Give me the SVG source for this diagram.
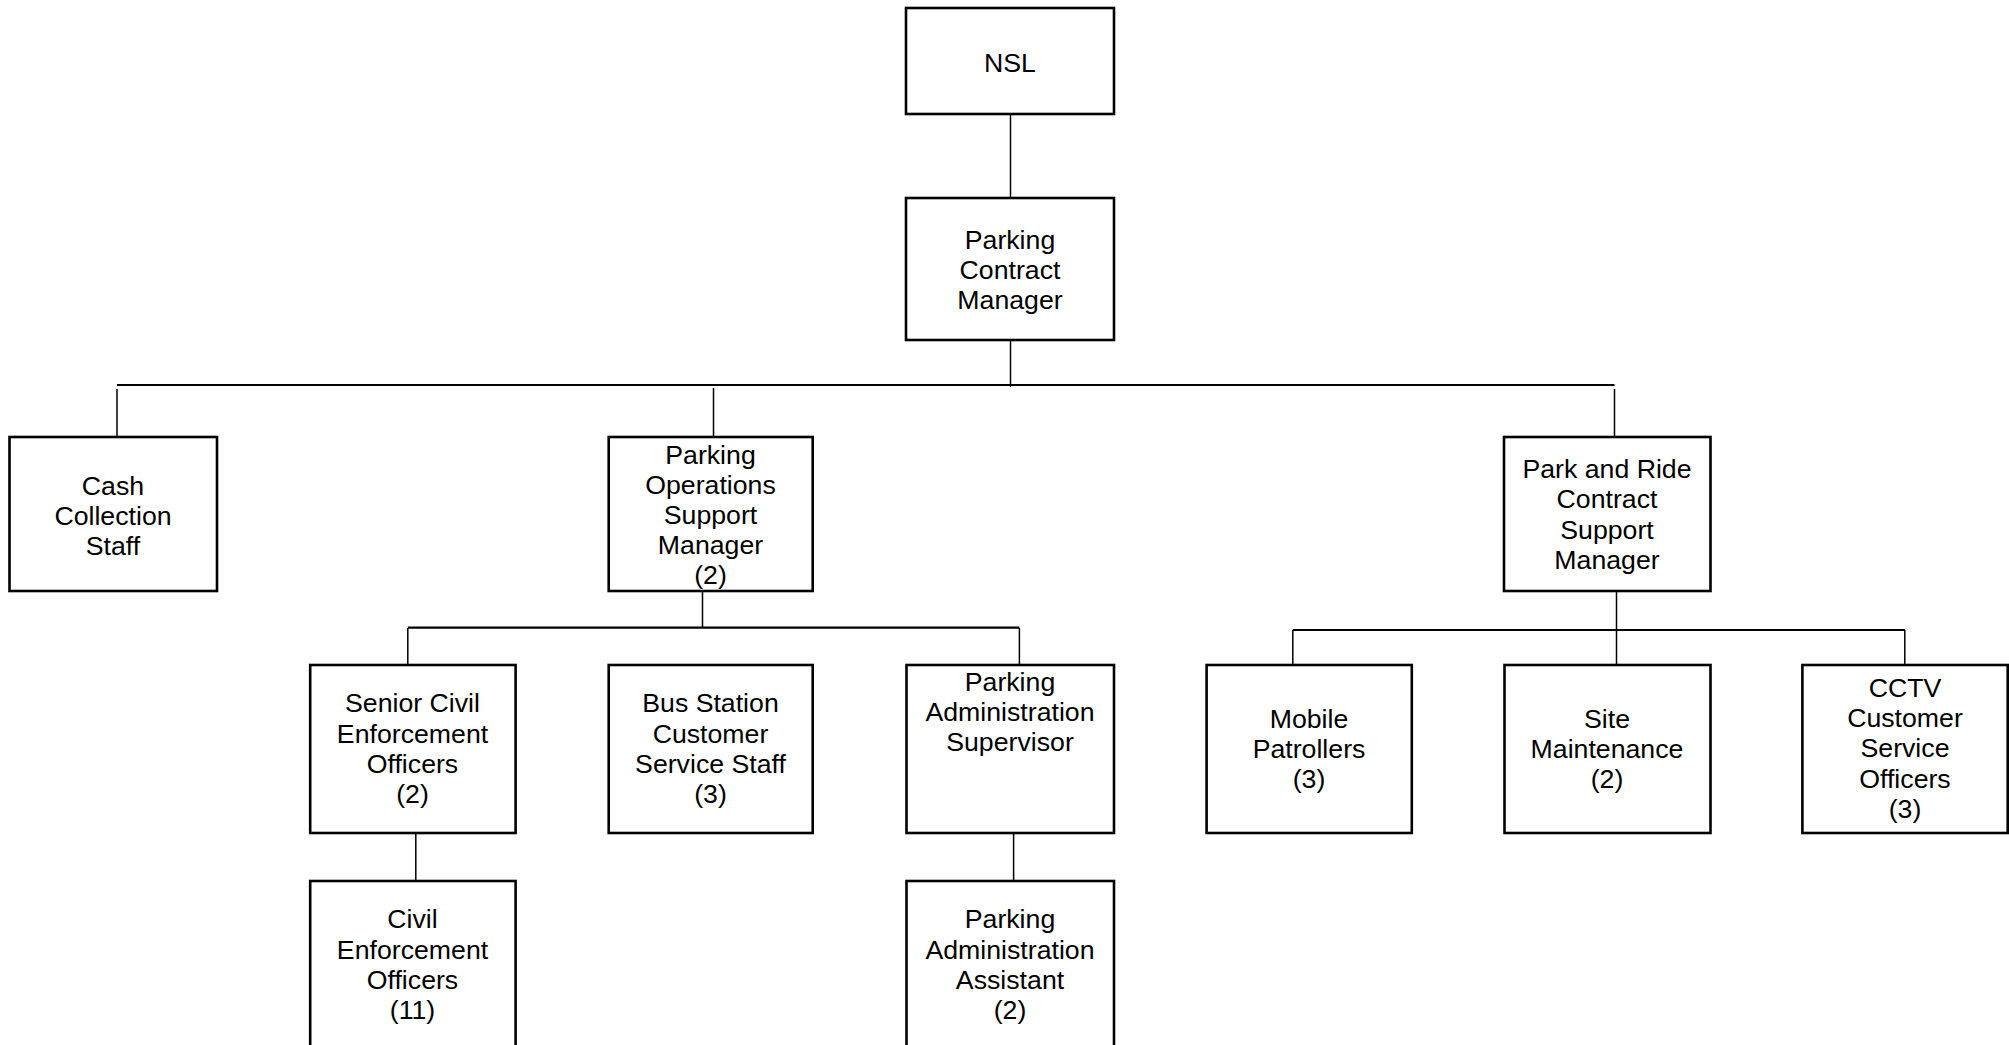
<svg xmlns="http://www.w3.org/2000/svg" width="2009" height="1045" viewBox="0 0 2009 1045">
<style>
.box{fill:#fff;stroke:#000;stroke-width:2.6}
.t{font-family:"Liberation Sans",Arial,sans-serif;font-size:26.7px;fill:#000;text-anchor:middle}
.c{stroke:#000;stroke-width:1.5;fill:none}
.bus{stroke:#000;stroke-width:2.2;fill:none}
</style>
<rect width="2009" height="1045" fill="#fff"/>
<g id="connectors">
<line class="c" x1="1010.5" y1="114" x2="1010.5" y2="198"/>
<line class="c" x1="1010.5" y1="340" x2="1010.5" y2="387"/>
<line class="bus" x1="117" y1="385" x2="1614.5" y2="385"/>
<line class="c" x1="117" y1="389" x2="117" y2="437"/>
<line class="c" x1="713.5" y1="388" x2="713.5" y2="437"/>
<line class="c" x1="1614.5" y1="389" x2="1614.5" y2="437"/>
<line class="c" x1="702.5" y1="591" x2="702.5" y2="628"/>
<line class="bus" x1="407.8" y1="627.7" x2="1019.4" y2="627.7"/>
<line class="c" x1="407.8" y1="628" x2="407.8" y2="665"/>
<line class="c" x1="1019.4" y1="628" x2="1019.4" y2="665"/>
<line class="c" x1="415.8" y1="833" x2="415.8" y2="881"/>
<line class="c" x1="1013.6" y1="830" x2="1013.6" y2="881"/>
<line class="c" x1="1616.5" y1="591" x2="1616.5" y2="665"/>
<line class="bus" x1="1292.8" y1="630" x2="1904.8" y2="630"/>
<line class="c" x1="1292.8" y1="630" x2="1292.8" y2="665"/>
<line class="c" x1="1904.8" y1="630" x2="1904.8" y2="665"/>
</g>
<g id="nsl">
<rect class="box" x="906" y="8" width="208" height="106"/>
<text class="t" x="1010" y="72">NSL</text>
</g>
<g id="pcm">
<rect class="box" x="906" y="198" width="208" height="142"/>
<text class="t" x="1010" y="248.5">Parking</text>
<text class="t" x="1010" y="278.8">Contract</text>
<text class="t" x="1010" y="309.1">Manager</text>
</g>
<g id="cash">
<rect class="box" x="9.5" y="437" width="207.5" height="154"/>
<text class="t" x="113" y="494.5">Cash</text>
<text class="t" x="113" y="524.8">Collection</text>
<text class="t" x="113" y="555.1">Staff</text>
</g>
<g id="posm">
<rect class="box" x="608.7" y="437" width="204" height="154"/>
<text class="t" x="710.5" y="463.5">Parking</text>
<text class="t" x="710.5" y="493.8">Operations</text>
<text class="t" x="710.5" y="524.1">Support</text>
<text class="t" x="710.5" y="554.4">Manager</text>
<text class="t" x="710.5" y="584">(2)</text>
</g>
<g id="prcsm">
<rect class="box" x="1504" y="437" width="206.5" height="154"/>
<text class="t" x="1607" y="478">Park and Ride</text>
<text class="t" x="1607" y="508.3">Contract</text>
<text class="t" x="1607" y="538.6">Support</text>
<text class="t" x="1607" y="568.9">Manager</text>
</g>
<g id="sceo">
<rect class="box" x="310.2" y="665" width="205.4" height="168"/>
<text class="t" x="412.5" y="712.3">Senior Civil</text>
<text class="t" x="412.5" y="742.6">Enforcement</text>
<text class="t" x="412.5" y="772.9">Officers</text>
<text class="t" x="412.5" y="803.2">(2)</text>
</g>
<g id="bscss">
<rect class="box" x="608.7" y="665" width="204" height="168"/>
<text class="t" x="710.5" y="712.3">Bus Station</text>
<text class="t" x="710.5" y="742.6">Customer</text>
<text class="t" x="710.5" y="772.9">Service Staff</text>
<text class="t" x="710.5" y="803.2">(3)</text>
</g>
<g id="pas">
<rect class="box" x="906.5" y="665" width="207.5" height="168"/>
<text class="t" x="1010" y="690.5">Parking</text>
<text class="t" x="1010" y="720.8">Administration</text>
<text class="t" x="1010" y="751.1">Supervisor</text>
</g>
<g id="ceo">
<rect class="box" x="310.2" y="881" width="205.4" height="170"/>
<text class="t" x="412.5" y="928.3">Civil</text>
<text class="t" x="412.5" y="958.6">Enforcement</text>
<text class="t" x="412.5" y="988.9">Officers</text>
<text class="t" x="412.5" y="1019.2">(11)</text>
</g>
<g id="paa">
<rect class="box" x="906.5" y="881" width="207.5" height="170"/>
<text class="t" x="1010" y="928.3">Parking</text>
<text class="t" x="1010" y="958.6">Administration</text>
<text class="t" x="1010" y="988.9">Assistant</text>
<text class="t" x="1010" y="1019.2">(2)</text>
</g>
<g id="mobile">
<rect class="box" x="1206.6" y="665" width="205.2" height="168"/>
<text class="t" x="1309" y="727.5">Mobile</text>
<text class="t" x="1309" y="757.8">Patrollers</text>
<text class="t" x="1309" y="788.1">(3)</text>
</g>
<g id="site">
<rect class="box" x="1504.5" y="665" width="206" height="168"/>
<text class="t" x="1607" y="727.5">Site</text>
<text class="t" x="1607" y="757.8">Maintenance</text>
<text class="t" x="1607" y="788.1">(2)</text>
</g>
<g id="cctv">
<rect class="box" x="1802.4" y="665" width="205.3" height="168"/>
<text class="t" x="1905" y="696.8">CCTV</text>
<text class="t" x="1905" y="727.1">Customer</text>
<text class="t" x="1905" y="757.4">Service</text>
<text class="t" x="1905" y="787.7">Officers</text>
<text class="t" x="1905" y="818">(3)</text>
</g>
</svg>
